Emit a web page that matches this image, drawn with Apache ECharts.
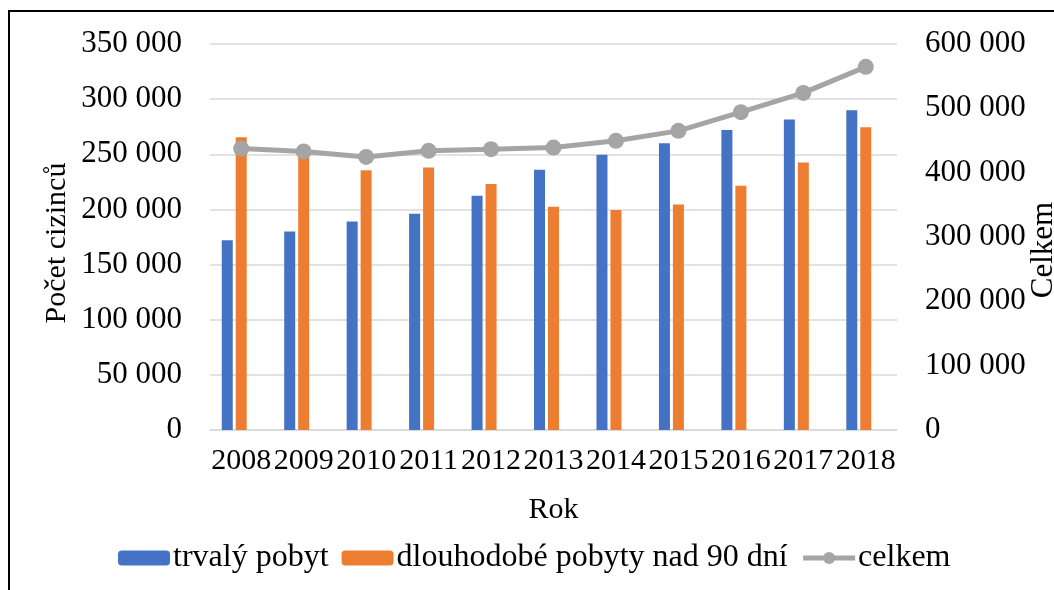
<!DOCTYPE html>
<html>
<head>
<meta charset="utf-8">
<script src="https://cdn.jsdelivr.net/npm/echarts@6/dist/echarts.min.js"></script>
<style>
  html, body { margin: 0; padding: 0; background: #fff; }
  #chart { width: 1054px; height: 590px; }
</style>
</head>
<body>
<div id="chart"></div>
<script>
  var roky = ['2008', '2009', '2010', '2011', '2012', '2013', '2014', '2015', '2016', '2017', '2018'];
  var trvalyPobyt = [172000, 180000, 189000, 196000, 212500, 236000, 249500, 260000, 272000, 281500, 290000];
  var dlouhodobePobyty = [265500, 253000, 235500, 238000, 223000, 202500, 199500, 204500, 221500, 242500, 274500];
  var celkem = [437500, 433000, 424500, 434000, 436500, 439000, 449500, 465000, 494000, 524000, 564500];

  var font = "'Liberation Serif', 'Times New Roman', serif";

  function mezery(v) {
    return String(v).replace(/\B(?=(\d{3})+(?!\d))/g, ' ');
  }

  var myChart = echarts.init(document.getElementById('chart'));
  var option = {
    backgroundColor: '#fff',
    animation: false,
    textStyle: {fontFamily: font, color: '#000'},
    graphic: [
      {
        type: 'rect',
        shape: {x: 9, y: 11, width: 1200, height: 800},
        style: {fill: 'none', stroke: '#000', lineWidth: 2}
      }
    ],
    legend: {
      data: [
        {name: 'trvalý pobyt'},
        {name: 'dlouhodobé pobyty nad 90 dní'},
        {name: 'celkem', lineStyle: {width: 5}}
      ],
      left: 113,
      top: 537,
      itemWidth: 52,
      itemHeight: 15,
      itemGap: 13,
      textStyle: {fontFamily: font, fontSize: 32, color: '#000', padding: [0, 0, 0, -2]}
    },
    grid: {left: 210, right: 157, top: 44, bottom: 160, containLabel: false, outerBoundsMode: 'none'},
    xAxis: {
      type: 'category',
      data: roky,
      name: 'Rok',
      nameLocation: 'middle',
      nameGap: 65,
      nameMoveOverlap: false,
      nameTextStyle: {fontFamily: font, fontSize: 30, color: '#000'},
      axisTick: {show: false},
      axisLine: {lineStyle: {color: '#D9D9D9', width: 1.5}},
      axisLabel: {interval: 0, margin: 16, fontFamily: font, fontSize: 30, color: '#000'}
    },
    yAxis: [
      {
        type: 'value',
        min: 0,
        max: 350000,
        interval: 50000,
        name: 'Počet cizinců',
        nameLocation: 'middle',
        nameRotate: 90,
        nameGap: 138,
        nameMoveOverlap: false,
        nameTextStyle: {fontFamily: font, fontSize: 30, color: '#000', padding: [0, 12, 0, 0]},
        axisLine: {show: false},
        axisTick: {show: false},
        splitLine: {lineStyle: {color: '#D9D9D9', width: 1.5}},
        axisLabel: {margin: 28, fontFamily: font, fontSize: 31, color: '#000', formatter: mezery}
      },
      {
        type: 'value',
        min: 0,
        max: 600000,
        interval: 100000,
        name: 'Celkem',
        nameLocation: 'middle',
        nameRotate: 90,
        nameGap: 131,
        nameMoveOverlap: false,
        nameTextStyle: {fontFamily: font, fontSize: 31, color: '#000', padding: [0, 26, 0, 0]},
        axisLine: {show: false},
        axisTick: {show: false},
        splitLine: {show: false},
        axisLabel: {margin: 28, fontFamily: font, fontSize: 31, color: '#000', formatter: mezery}
      }
    ],
    series: [
      {
        name: 'trvalý pobyt',
        type: 'bar',
        barWidth: 11,
        barGap: '27%',
        itemStyle: {color: '#4472C4'},
        data: trvalyPobyt
      },
      {
        name: 'dlouhodobé pobyty nad 90 dní',
        type: 'bar',
        barWidth: 11,
        barGap: '27%',
        itemStyle: {color: '#ED7D31'},
        data: dlouhodobePobyty
      },
      {
        // prázdné místo pro třetí sloupec (jako v Excelu)
        name: 'mezera',
        type: 'bar',
        barWidth: 11,
        barGap: '27%',
        data: roky.map(function () { return null; })
      },
      {
        name: 'celkem',
        type: 'line',
        yAxisIndex: 1,
        symbol: 'circle',
        symbolSize: 16,
        lineStyle: {color: '#A5A5A5', width: 5},
        itemStyle: {color: '#A5A5A5'},
        data: celkem
      }
    ]
  };
  option && myChart.setOption(option);
</script>
</body>
</html>
